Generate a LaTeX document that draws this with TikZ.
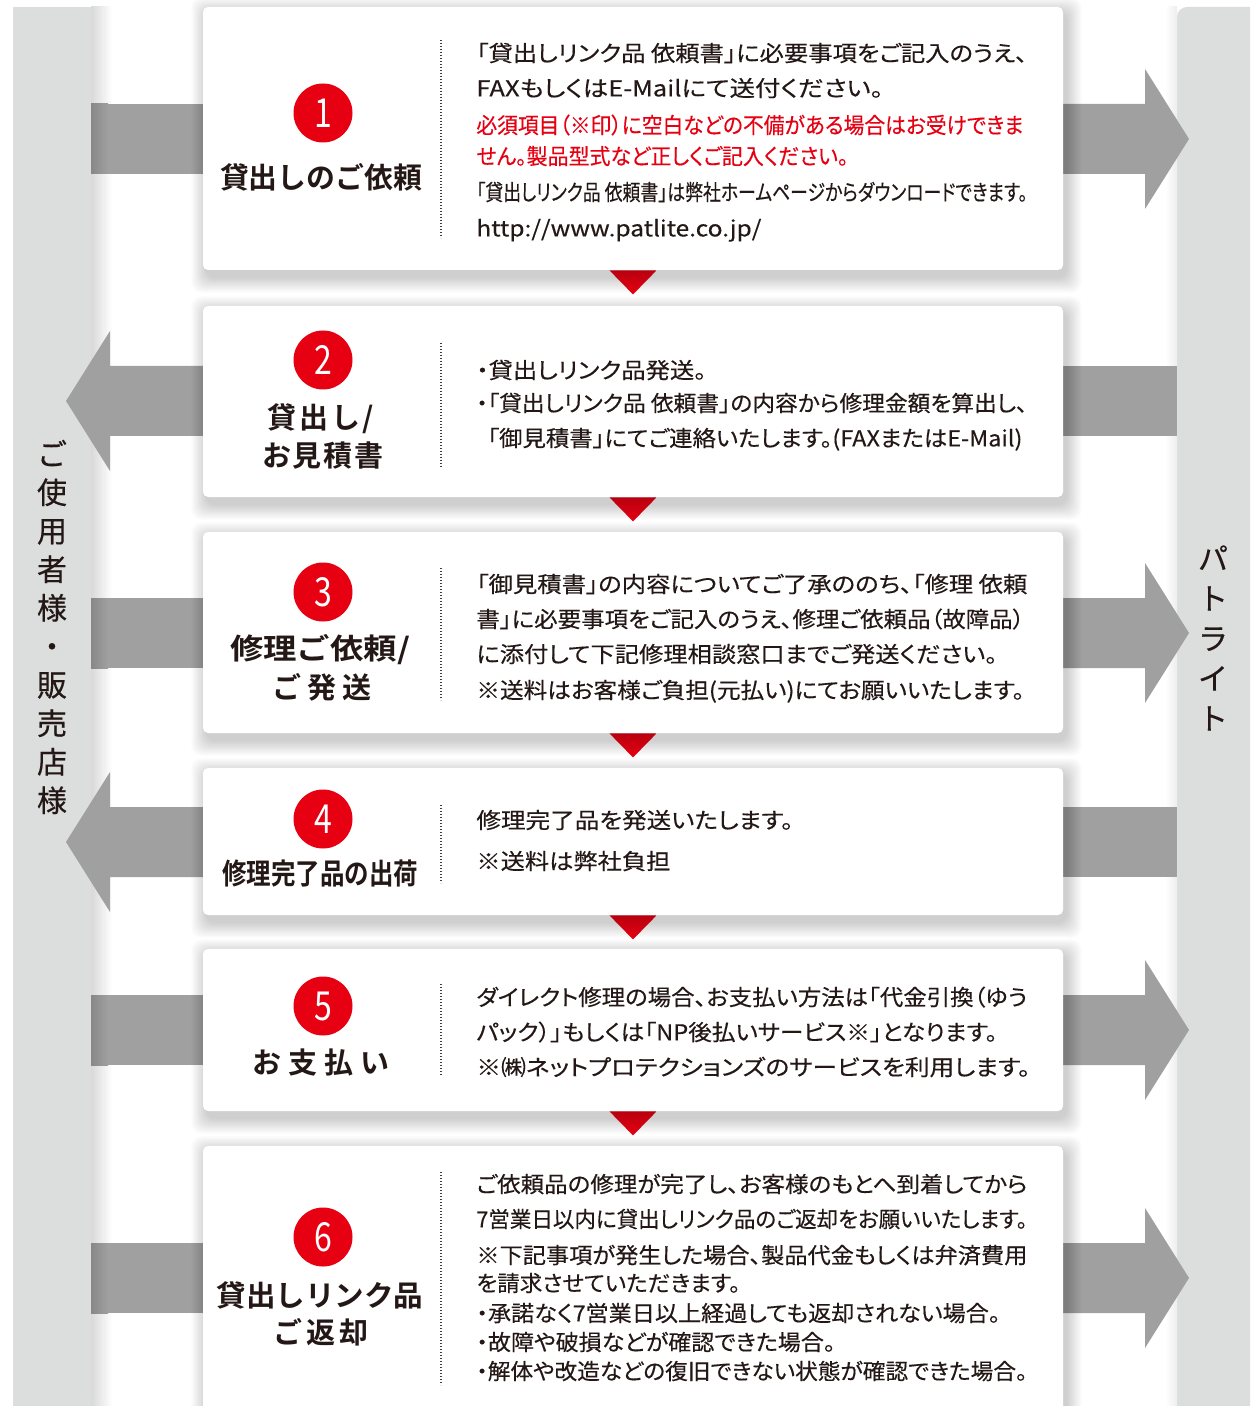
\documentclass[tikz,border=0pt]{standalone}
\usepackage{fontspec}
\setmainfont{Noto Sans CJK JP}[BoldFont={Noto Sans CJK JP Bold}]
\newfontfamily\bodyf{Noto Sans CJK JP}[RawFeature=+palt, FakeBold=0.3]
\newfontfamily\sidef{Noto Sans CJK JP}[FakeBold=0.4]
\usepackage{graphicx}
\usetikzlibrary{calc}
\definecolor{barc}{HTML}{DCDDDD}
\definecolor{arrc}{HTML}{A0A0A0}
\definecolor{redc}{HTML}{E60012}
\definecolor{txtc}{HTML}{231815}
\newlength\fitlen
\newcommand\fitto[2]{\settowidth{\fitlen}{#2}\pgfmathsetmacro\fitr{#1*0.5/\fitlen}\scalebox{\fitr}[1]{#2}}
\newcommand\cshadow[2]{\foreach \k in {1,...,12}{\fill[black,opacity=0.014,rounded corners=5pt] (207-\k*1.3,#1+6-\k*1.3) rectangle (1066+\k*1.3,#2+7+\k*1.3);}}
\tikzset{
  card/.style={fill=white, rounded corners=2.5pt, inner sep=0pt, minimum width=430pt},
  num/.style={circle, fill=redc, minimum size=29.5pt, inner sep=0pt, text=white, font=\fontsize{20}{20}\selectfont},
  ttl/.style={font=\fontsize{14.5}{17}\selectfont\bfseries, text=txtc, inner sep=0pt, text height=12.8pt, text depth=1.7pt},
  body/.style={anchor=west, inner sep=0pt, font=\bodyf\fontsize{11}{13}\selectfont, text=txtc, text height=9.7pt, text depth=1.3pt},
  redbody/.style={body, text=redc},
  sepline/.style={draw=txtc!85, line width=0.6pt, dash pattern=on 0.6pt off 0.9pt},
  vtext/.style={align=center, font=\sidef\fontsize{15}{19.25}\selectfont, text=txtc, inner sep=0pt},
  garrow/.style={fill=arrc},
  redtri/.style={top color=redc!80!black, bottom color=redc}
}
\begin{document}
\begin{tikzpicture}[x=0.5pt,y=-0.5pt]
\useasboundingbox (0,0) rectangle (1250,1406);
\clip (0,0) rectangle (1250,1406);
\fill[white] (0,0) rectangle (1250,1406);
% side bars
\fill[barc] (13,7) rectangle (91,1420);
\fill[barc, rounded corners=5pt] (1177,1420) -- (1177,7) -- (1270,7) -- (1270,1420);
\shade[left color=black!15, right color=white] (91,7) rectangle (112,1406);
\shade[left color=white, right color=black!7] (1165,7) rectangle (1177,1406);
% arrows to the right (cards 1,3,5,6)
\foreach \c in {139,633,1030,1278}{
  \fill[garrow] (1055,\c-35) -- (1145,\c-35) -- (1145,\c-70) -- (1189,\c) -- (1145,\c+70) -- (1145,\c+35) -- (1055,\c+35) -- cycle;
  \fill[garrow] (91,\c-35) rectangle (210,\c+35);
  \shade[left color=arrc!85!black, right color=arrc] (91,\c-35) rectangle (108,\c+35);
}
% arrows to the left (cards 2,4)
\foreach \c in {401,842}{
  \fill[garrow] (210,\c-35) -- (110,\c-35) -- (110,\c-70) -- (66,\c) -- (110,\c+70) -- (110,\c+35) -- (210,\c+35) -- cycle;
  \fill[garrow] (1055,\c-35) rectangle (1177,\c+35);
}
% card shadows
\cshadow{7}{270}
\cshadow{306}{497}
\cshadow{532}{733}
\cshadow{768}{915}
\cshadow{949}{1111}
\cshadow{1146}{1420}
% cards
\node[card, minimum height=131.5pt] (card1) at (633,138.5) {};
\node[card, minimum height=95.5pt] (card2) at (633,401.5) {};
\node[card, minimum height=100.5pt] (card3) at (633,632.5) {};
\node[card, minimum height=73.5pt] (card4) at (633,841.5) {};
\node[card, minimum height=81pt] (card5) at (633,1030) {};
\node[card, minimum height=137pt] (card6) at (633,1283) {};
% red triangles
\foreach \n in {card1,card2,card3,card4,card5}{
  \shade[redtri] ([xshift=-11.75pt]\n.south) -- ([xshift=11.75pt]\n.south) -- ([yshift=-12pt]\n.south) -- cycle;
}
% separators
\draw[sepline] (441,40) -- (441,238);
\draw[sepline] (441,343) -- (441,468);
\draw[sepline] (441,568) -- (441,700);
\draw[sepline] (441,805) -- (441,883);
\draw[sepline] (441,984) -- (441,1076);
\draw[sepline] (441,1172) -- (441,1385);
% numbers
\node[num] (n1) at (323,113) {\scalebox{0.8}[1]{1}};
\node[num] (n2) at (323,360) {\scalebox{0.8}[1]{2}};
\node[num] (n3) at (323,592) {\scalebox{0.8}[1]{3}};
\node[num] (n4) at (323,819) {\scalebox{0.8}[1]{4}};
\node[num] (n5) at (323,1006) {\scalebox{0.8}[1]{5}};
\node[num] (n6) at (323,1237) {\scalebox{0.8}[1]{6}};
% titles
\node[ttl] (t1) at (321,177) {\fitto{202}{貸出しのご依頼}};
\node[ttl] (t2a) at (321,417) {貸\kern1.5pt 出\kern1.5pt し\kern1pt /};
\node[ttl] (t2b) at (323,455) {お\kern1pt 見\kern1pt 積\kern1pt 書};
\node[ttl] (t3a) at (320,648) {\fitto{180}{修理ご依頼/}};
\node[ttl] (t3b) at (322,687) {ご\kern3pt 発\kern3pt 送};
\node[ttl] (t4) at (320,873) {\fitto{196}{修理完了品の出荷}};
\node[ttl] (t5) at (321,1062) {お\kern3.5pt 支\kern3.5pt 払\kern3.5pt い};
\node[ttl] (t6a) at (320,1295) {\fitto{207}{貸出しリンク品}};
\node[ttl] (t6b) at (321,1332) {ご\kern2pt 返\kern2pt 却};
% card 1 text
\node[body] (c1a) at (476,53) {\fitto{551}{「貸出しリンク品 依頼書」に必要事項をご記入のうえ、}};
\node[body] (c1b) at (476,88) {\fitto{407}{FAXもしくはE-Mailにて送付ください。}};
\node[redbody] (c1c) at (476,125) {\fitto{547}{必須項目（※印）に空白などの不備がある場合はお受けできま}};
\node[redbody] (c1d) at (476,156) {\fitto{372}{せん。製品型式など正しくご記入ください。}};
\node[body] (c1e) at (476,192) {\fitto{551}{「貸出しリンク品 依頼書」は弊社ホームページからダウンロードできます。}};
\node[body] (c1f) at (476,228) {\fitto{285}{http://www.patlite.co.jp/}};
% card 2 text
\node[body] (c2a) at (476,370) {\fitto{230}{・貸出しリンク品発送。}};
\node[body] (c2b) at (476,403) {\fitto{551}{・「貸出しリンク品 依頼書」の内容から修理金額を算出し、}};
\node[body] (c2c) at (487,438) {\fitto{535}{「御見積書」にてご連絡いたします。(FAXまたはE-Mail)}};
% card 3 text
\node[body] (c3a) at (476,584) {\fitto{551}{「御見積書」の内容についてご了承ののち、「修理 依頼}};
\node[body] (c3b) at (476,619) {\fitto{548}{書」に必要事項をご記入のうえ、修理ご依頼品（故障品）}};
\node[body] (c3c) at (476,654) {\fitto{521}{に添付して下記修理相談窓口までご発送ください。}};
\node[body] (c3d) at (476,690) {\fitto{548}{※送料はお客様ご負担(元払い)にてお願いいたします。}};
% card 4 text
\node[body] (c4a) at (476,820) {\fitto{317}{修理完了品を発送いたします。}};
\node[body] (c4b) at (476,861) {\fitto{194}{※送料は弊社負担}};
% card 5 text
\node[body] (c5a) at (476,997) {\fitto{551}{ダイレクト修理の場合、お支払い方法は「代金引換（ゆう}};
\node[body] (c5b) at (476,1032) {\fitto{521}{パック）」もしくは「NP後払いサービス※」となります。}};
\node[body] (c5c) at (476,1067) {\fitto{554}{※㈱ネットプロテクションズのサービスを利用します。}};
% card 6 text
\node[body] (c6a) at (476,1184) {\fitto{551}{ご依頼品の修理が完了し、お客様のもとへ到着してから}};
\node[body] (c6b) at (476,1219) {\fitto{551}{7営業日以内に貸出しリンク品のご返却をお願いいたします。}};
\node[body] (c6c) at (476,1255) {\fitto{551}{※下記事項が発生した場合、製品代金もしくは弁済費用}};
\node[body] (c6d) at (476,1283) {\fitto{264}{を請求させていただきます。}};
\node[body] (c6e) at (476,1313) {\fitto{524}{・承諾なく7営業日以上経過しても返却されない場合。}};
\node[body] (c6f) at (476,1342) {\fitto{359}{・故障や破損などが確認できた場合。}};
\node[body] (c6g) at (476,1371) {\fitto{551}{・解体や改造などの復旧できない状態が確認できた場合。}};
% vertical labels
\node[vtext] (lv) at (52,627) {ご\\使\\用\\者\\様\\・\\販\\売\\店\\様};
\node[vtext, font=\sidef\fontsize{15}{20}\selectfont] (rv) at (1213,638) {パ\\ト\\ラ\\イ\\ト};
\end{tikzpicture}
\end{document}
